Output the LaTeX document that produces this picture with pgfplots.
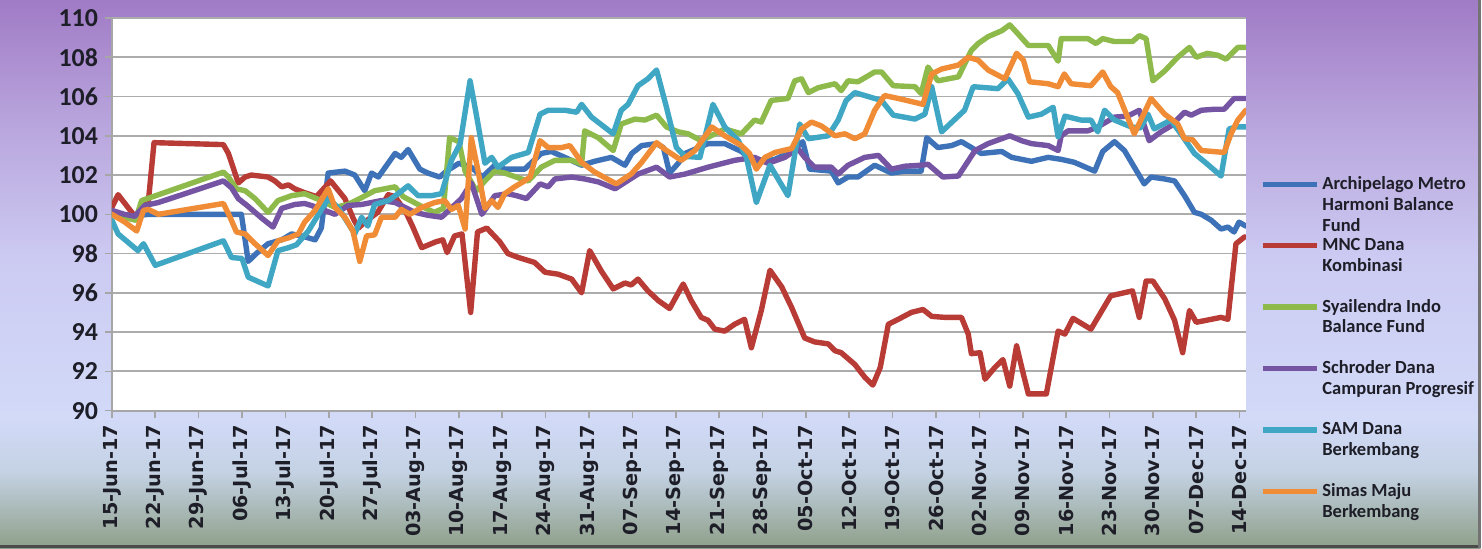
\documentclass[border=0pt]{standalone}
\usepackage{fontspec}
\setmainfont{Carlito}
\newfontfamily\dejavu{DejaVu Sans}
\usepackage{pgfplots}
\pgfplotsset{compat=1.18}
\definecolor{cBlue}{HTML}{3E72B8}
\definecolor{cRed}{HTML}{B83B36}
\definecolor{cGreen}{HTML}{8DBA4B}
\definecolor{cPurple}{HTML}{7555A3}
\definecolor{cCyan}{HTML}{3FA7C4}
\definecolor{cOrange}{HTML}{F08C35}
\definecolor{labelc}{HTML}{1E1E28}
\definecolor{bg1}{HTML}{8E9F88}
\definecolor{bg2}{HTML}{C4D2E4}
\definecolor{bg3}{HTML}{D2DAF8}
\definecolor{bg4}{HTML}{CCCAF2}
\definecolor{bg5}{HTML}{B8A4DC}
\definecolor{bg6}{HTML}{A07BC6}
\pgfdeclareverticalshading{bgshade}{100bp}{color(0bp)=(bg1); color(25bp)=(bg1); color(32bp)=(bg2); color(37bp)=(bg3); color(51.5bp)=(bg4); color(64bp)=(bg5); color(75bp)=(bg6); color(100bp)=(bg6)}
\begin{document}
\begin{tikzpicture}
\shade[shading=bgshade] (0,0) rectangle (741bp,274.5bp);
\fill[black!70] (0,0) rectangle (741bp,1.8bp);
\fill[black!55] (739.5bp,0) rectangle (741bp,274.5bp);
\begin{axis}[
  at={(56bp,69bp)}, anchor=south west,
  scale only axis, width=567.5bp, height=196.5bp,
  xmin=0, xmax=183, ymin=90, ymax=110,
  xtick={0,7,...,182},
  xticklabels={15-Jun-17,22-Jun-17,29-Jun-17,06-Jul-17,13-Jul-17,20-Jul-17,27-Jul-17,03-Aug-17,10-Aug-17,17-Aug-17,24-Aug-17,31-Aug-17,07-Sep-17,14-Sep-17,21-Sep-17,28-Sep-17,05-Oct-17,12-Oct-17,19-Oct-17,26-Oct-17,02-Nov-17,09-Nov-17,16-Nov-17,23-Nov-17,30-Nov-17,07-Dec-17,14-Dec-17},
  ytick={90,92,...,110},
  axis background/.style={fill=white},
  ymajorgrids, major grid style={color=gray!65, line width=0.9bp},
  axis x line*=bottom, axis y line*=left,
  axis line style={color=gray!70, line width=0.9bp, -},
  tick align=outside, major tick length=3.5bp,
  tick style={color=gray!70, line width=0.8bp},
  x tick label style={rotate=90, anchor=east, font=\dejavu\bfseries\fontsize{9.7}{11}\selectfont, text=labelc},
  y tick label style={font=\bfseries\fontsize{13}{15}\selectfont, text=labelc},
  /pgf/number format/assume math mode=true,
  every axis plot/.append style={line width=2.7bp, line join=round, line cap=round, mark=none},
  legend style={at={(1.007,0.613)}, anchor=north west, draw=none, fill=none, row sep=0pt,
     font=\bfseries\fontsize{9.3}{10.5}\selectfont, text=labelc,
     nodes={inner sep=1bp}, cells={align=left},
     /tikz/every odd column/.append style={column sep=0.5bp}},
  legend cell align=left,
  legend image code/.code={\path[draw=none,fill=none] (0bp,-11.9bp) rectangle (27bp,11.9bp); \draw[#1, line width=2.6bp, line cap=butt] (0bp,10.5bp) -- (27bp,10.5bp);},
]
\addplot[cBlue] coordinates {(0,100.0)(3,99.9)(6,100.0)(20.9,100.0)(22.0,97.6)(23.3,98.0)(25.2,98.5)(27.4,98.7)(29.0,99.0)(30.6,98.9)(32.8,98.7)(33.8,99.3)(34.9,102.1)(37.6,102.2)(39.2,102.0)(40.8,101.2)(41.9,102.1)(43.0,101.9)(45.7,103.1)(46.7,102.9)(47.8,103.3)(49.7,102.3)(51.0,102.1)(52.9,101.9)(54.0,102.2)(56.0,102.6)(58.0,102.4)(59.8,101.9)(61.8,102.5)(63.4,102.3)(66.6,102.3)(69.3,103.1)(70.9,103.2)(73.1,102.9)(75.8,102.5)(77.9,102.7)(80.6,102.9)(82.8,102.5)(83.9,103.1)(85.5,103.5)(87.9,103.6)(89.0,103.4)(90.0,102.1)(91.4,102.6)(92.5,103.1)(96.2,103.6)(98.9,103.6)(101.6,103.2)(103.7,102.6)(107.0,102.8)(109.7,103.2)(111.5,103.7)(112.6,102.3)(116.1,102.2)(117.2,101.6)(118.8,101.9)(120.4,101.9)(123.1,102.5)(125.8,102.1)(128.0,102.2)(130.6,102.2)(131.5,103.9)(133.3,103.4)(135.5,103.5)(137.1,103.7)(138.7,103.4)(140.3,103.1)(143.6,103.2)(145.2,102.9)(148.4,102.7)(151.1,102.9)(153.2,102.8)(155.3,102.65)(158.6,102.2)(159.9,103.2)(161.8,103.7)(163.4,103.25)(165.0,102.4)(166.6,101.55)(167.7,101.9)(169.9,101.8)(171.5,101.7)(173.1,100.95)(174.7,100.1)(175.8,100.0)(177.4,99.7)(179.0,99.25)(180.1,99.35)(181.1,99.1)(181.9,99.6)(183.0,99.4)};
\addlegendentry{Archipelago Metro\\Harmoni Balance\\Fund}
\addplot[cRed] coordinates {(0,100.35)(1,101.0)(3.7,99.9)(5.9,100.7)(6.8,103.65)(18.0,103.55)(18.8,103.1)(20.4,101.6)(21.5,101.9)(22.5,102.0)(25.2,101.9)(26.3,101.7)(27.4,101.4)(28.5,101.5)(29.5,101.3)(31.1,101.1)(33.0,100.9)(35.3,101.7)(37.6,100.8)(39.0,99.75)(39.8,99.3)(40.8,99.6)(42.9,100.1)(44.6,101.0)(45.7,100.9)(47.0,100.3)(47.6,100.0)(48.5,99.4)(50.0,98.3)(52.3,98.6)(53.4,98.7)(54.1,98.05)(55.3,98.9)(56.5,99.0)(57.9,95.0)(59.0,99.1)(60.5,99.3)(62.6,98.6)(63.9,98.0)(65.6,97.8)(68.2,97.55)(69.9,97.05)(72.0,96.95)(74.2,96.7)(75.8,96.0)(77.1,98.15)(79.0,97.1)(80.9,96.2)(82.8,96.5)(83.8,96.4)(84.9,96.7)(86.5,96.1)(88.2,95.6)(90.0,95.2)(92.2,96.45)(93.5,95.6)(95.1,94.75)(96.2,94.6)(97.3,94.15)(98.9,94.05)(100.5,94.4)(102.1,94.65)(103.2,93.2)(104.8,95.1)(106.2,97.15)(108.1,96.3)(109.7,95.25)(111.8,93.7)(113.4,93.5)(115.6,93.4)(116.7,93.05)(117.7,92.95)(119.9,92.35)(121.5,91.7)(122.8,91.3)(124.0,92.2)(125.3,94.4)(126.9,94.65)(129.0,95.0)(130.9,95.15)(132.3,94.8)(134.4,94.75)(137.1,94.75)(138.2,93.9)(138.7,92.9)(140.1,92.95)(140.9,91.6)(142.5,92.2)(143.8,92.6)(144.9,91.25)(146.0,93.3)(147.1,91.85)(147.9,90.85)(150.8,90.85)(152.7,94.05)(153.8,93.9)(155.1,94.7)(158.0,94.15)(159.6,95.0)(161.2,95.85)(164.7,96.1)(165.8,94.75)(166.9,96.6)(168.0,96.6)(169.9,95.7)(171.5,94.6)(172.8,92.95)(173.9,95.1)(175.0,94.5)(177.4,94.65)(179.0,94.75)(180.1,94.65)(181.4,98.5)(182.8,98.85)};
\addlegendentry{MNC Dana\\Kombinasi\\\strut}
\addplot[cGreen] coordinates {(0,100.0)(2.5,99.8)(3.8,99.7)(4.8,100.7)(18.0,102.15)(18.8,101.9)(20.1,101.3)(21.5,101.2)(23.1,100.8)(25.2,100.1)(26.8,100.7)(29.0,100.95)(31.1,101.05)(33.8,100.7)(36.0,100.35)(38.1,100.5)(40.3,100.85)(42.4,101.2)(45.7,101.4)(47.0,100.9)(50.0,100.4)(52.0,100.1)(53.5,100.3)(54.5,103.9)(56.0,103.7)(57.0,102.2)(58.8,101.2)(60.2,101.7)(61.8,102.2)(63.4,102.1)(66.1,101.8)(67.2,101.7)(69.3,102.4)(71.5,102.75)(74.2,102.75)(75.8,102.55)(76.3,104.25)(78.5,103.9)(80.9,103.25)(82.2,104.6)(84.4,104.85)(86.0,104.8)(87.9,105.05)(89.5,104.45)(91.4,104.2)(93.0,104.1)(95.1,103.75)(98.9,104.35)(101.6,104.1)(103.7,104.8)(104.8,104.7)(106.4,105.8)(109.1,105.9)(110.2,106.8)(111.3,106.9)(112.4,106.2)(114.0,106.45)(116.7,106.65)(117.7,106.3)(118.8,106.8)(120.4,106.75)(123.1,107.25)(124.2,107.25)(126.1,106.55)(129.6,106.5)(130.6,106.15)(131.7,107.5)(133.3,106.8)(136.6,107.0)(138.7,108.35)(139.8,108.7)(141.4,109.05)(143.6,109.35)(144.9,109.65)(146.2,109.2)(147.9,108.6)(151.1,108.6)(152.7,107.8)(153.2,108.95)(157.5,108.95)(158.8,108.7)(159.9,108.95)(161.8,108.8)(164.7,108.8)(165.8,109.1)(166.9,108.95)(168.0,106.8)(169.9,107.3)(172.0,108.0)(173.9,108.5)(175.0,108.0)(176.8,108.2)(178.5,108.1)(179.8,107.9)(181.7,108.5)(183.0,108.5)};
\addlegendentry{Syailendra Indo\\Balance Fund\\\strut}
\addplot[cPurple] coordinates {(0,100.2)(2.0,100.0)(3.7,99.9)(5.3,100.45)(7.5,100.6)(18.0,101.7)(19.3,101.35)(20.4,100.8)(22.0,100.4)(24.2,99.8)(26.0,99.35)(27.4,100.3)(29.5,100.5)(31.1,100.55)(32.2,100.45)(36.0,100.0)(38.1,100.45)(40.3,100.5)(43.5,100.7)(45.7,100.6)(48.9,100.1)(51.0,99.95)(53.2,99.85)(56.4,100.8)(58.0,101.6)(59.7,100.0)(61.8,100.95)(63.9,101.05)(65.3,100.95)(66.9,100.8)(69.1,101.55)(70.4,101.4)(71.5,101.8)(74.2,101.9)(76.3,101.8)(78.5,101.65)(81.2,101.3)(84.9,102.05)(87.9,102.4)(90.0,101.9)(92.5,102.05)(96.2,102.4)(100.5,102.75)(103.7,102.9)(105.9,102.6)(108.6,102.9)(110.7,103.35)(111.8,102.9)(113.4,102.4)(116.1,102.4)(117.2,102.05)(118.8,102.5)(121.5,102.9)(123.7,103.0)(125.8,102.3)(128.0,102.45)(130.6,102.5)(131.7,102.55)(134.1,101.9)(136.6,101.95)(139.3,103.25)(141.4,103.6)(144.9,104.0)(146.8,103.75)(148.4,103.6)(151.1,103.5)(152.7,103.25)(153.2,104.0)(154.3,104.25)(157.5,104.25)(159.1,104.45)(161.8,104.95)(163.9,105.0)(165.8,105.3)(167.4,103.75)(169.3,104.2)(170.9,104.5)(173.1,105.2)(174.2,105.05)(175.8,105.3)(177.9,105.35)(179.5,105.35)(181.1,105.9)(183.0,105.9)};
\addlegendentry{Schroder Dana\\Campuran Progresif\\\strut}
\addplot[cCyan] coordinates {(0,99.7)(1.0,99.0)(4.2,98.15)(5.1,98.5)(7.0,97.4)(18.0,98.65)(19.3,97.8)(21.0,97.75)(22.0,96.8)(25.2,96.35)(26.8,98.15)(28.5,98.3)(29.8,98.45)(31.7,99.15)(34.9,100.8)(36.5,100.35)(39.2,99.0)(40.3,99.85)(41.3,99.4)(42.4,100.5)(44.6,100.7)(46.2,101.05)(47.8,101.45)(49.4,100.95)(51.6,100.95)(53.2,101.05)(54.8,102.75)(56.2,103.6)(57.8,106.8)(58.8,105.1)(60.2,102.6)(61.3,102.9)(62.3,102.4)(64.5,102.9)(67.2,103.15)(69.1,105.1)(70.4,105.3)(73.1,105.3)(75.0,105.2)(75.8,105.6)(77.4,104.95)(80.9,104.1)(82.2,105.3)(83.3,105.6)(84.9,106.55)(86.5,106.9)(87.9,107.35)(89.5,105.45)(91.1,103.4)(92.5,102.95)(94.9,102.9)(97.0,105.6)(98.9,104.45)(101.1,103.75)(102.4,102.9)(104.0,100.6)(106.2,102.5)(109.1,100.95)(111.0,104.6)(112.4,103.85)(115.6,104.0)(117.2,104.8)(118.5,105.8)(119.9,106.2)(123.1,105.9)(124.2,105.8)(126.1,105.05)(129.6,104.85)(131.2,105.1)(132.3,106.5)(133.9,104.2)(137.6,105.3)(139.0,106.5)(143.0,106.4)(144.6,106.9)(146.2,106.15)(147.9,104.95)(150.0,105.1)(151.9,105.45)(152.7,103.95)(153.8,105.0)(156.4,104.8)(158.0,104.8)(159.1,104.2)(160.2,105.3)(161.8,104.8)(164.5,104.45)(166.0,104.4)(167.2,105.1)(168.2,104.35)(170.9,104.8)(172.5,104.1)(174.7,103.1)(176.8,102.55)(179.0,101.95)(180.3,104.35)(181.4,104.45)(183.0,104.45)};
\addlegendentry{SAM Dana\\Berkembang\\\strut}
\addplot[cOrange] coordinates {(0,100.0)(2.1,99.6)(4.0,99.15)(5.1,100.2)(5.9,100.25)(7.5,100.0)(18.0,100.55)(19.0,99.9)(20.1,99.1)(21.5,99.0)(23.1,98.5)(25.2,97.9)(26.8,98.65)(28.5,98.8)(30.1,99.0)(31.1,99.6)(32.8,100.2)(34.9,101.3)(36.0,100.35)(37.6,99.85)(38.9,99.15)(40.0,97.6)(41.1,98.9)(42.4,98.95)(43.5,99.85)(45.7,99.85)(46.7,100.25)(48.1,100.0)(50.0,100.35)(52.1,100.6)(53.7,100.7)(54.8,100.25)(55.9,100.45)(57.0,99.25)(58.0,103.9)(59.1,102.2)(60.2,100.3)(61.3,100.7)(62.3,100.35)(63.4,101.05)(65.0,101.4)(66.6,101.7)(67.5,101.9)(69.1,103.75)(70.4,103.4)(72.6,103.4)(73.9,103.5)(75.8,102.65)(77.9,102.15)(81.4,101.55)(83.8,102.05)(85.5,102.65)(87.9,103.65)(89.5,103.25)(91.9,102.75)(94.1,103.25)(96.8,104.45)(98.9,104.0)(101.6,103.5)(102.9,103.1)(104.0,102.3)(105.4,102.9)(107.0,103.15)(109.7,103.35)(111.3,104.35)(112.9,104.7)(114.5,104.5)(116.7,104.0)(118.3,104.1)(119.9,103.85)(121.5,104.1)(123.1,105.3)(124.7,106.05)(126.9,105.9)(129.6,105.7)(130.9,105.6)(132.3,107.15)(133.9,107.4)(136.6,107.6)(138.2,108.0)(139.8,107.85)(141.4,107.35)(144.1,106.9)(146.0,108.2)(147.1,107.85)(148.1,106.75)(151.1,106.65)(152.7,106.5)(153.7,107.15)(154.8,106.65)(158.0,106.55)(159.9,107.25)(161.2,106.5)(162.3,106.2)(165.0,104.1)(167.7,105.9)(169.9,105.1)(172.0,104.6)(173.1,103.85)(174.4,103.8)(175.8,103.25)(179.5,103.15)(180.6,104.1)(181.7,104.8)(183.0,105.3)};
\addlegendentry{Simas Maju\\Berkembang\\\strut}
\end{axis}
\end{tikzpicture}
\end{document}
